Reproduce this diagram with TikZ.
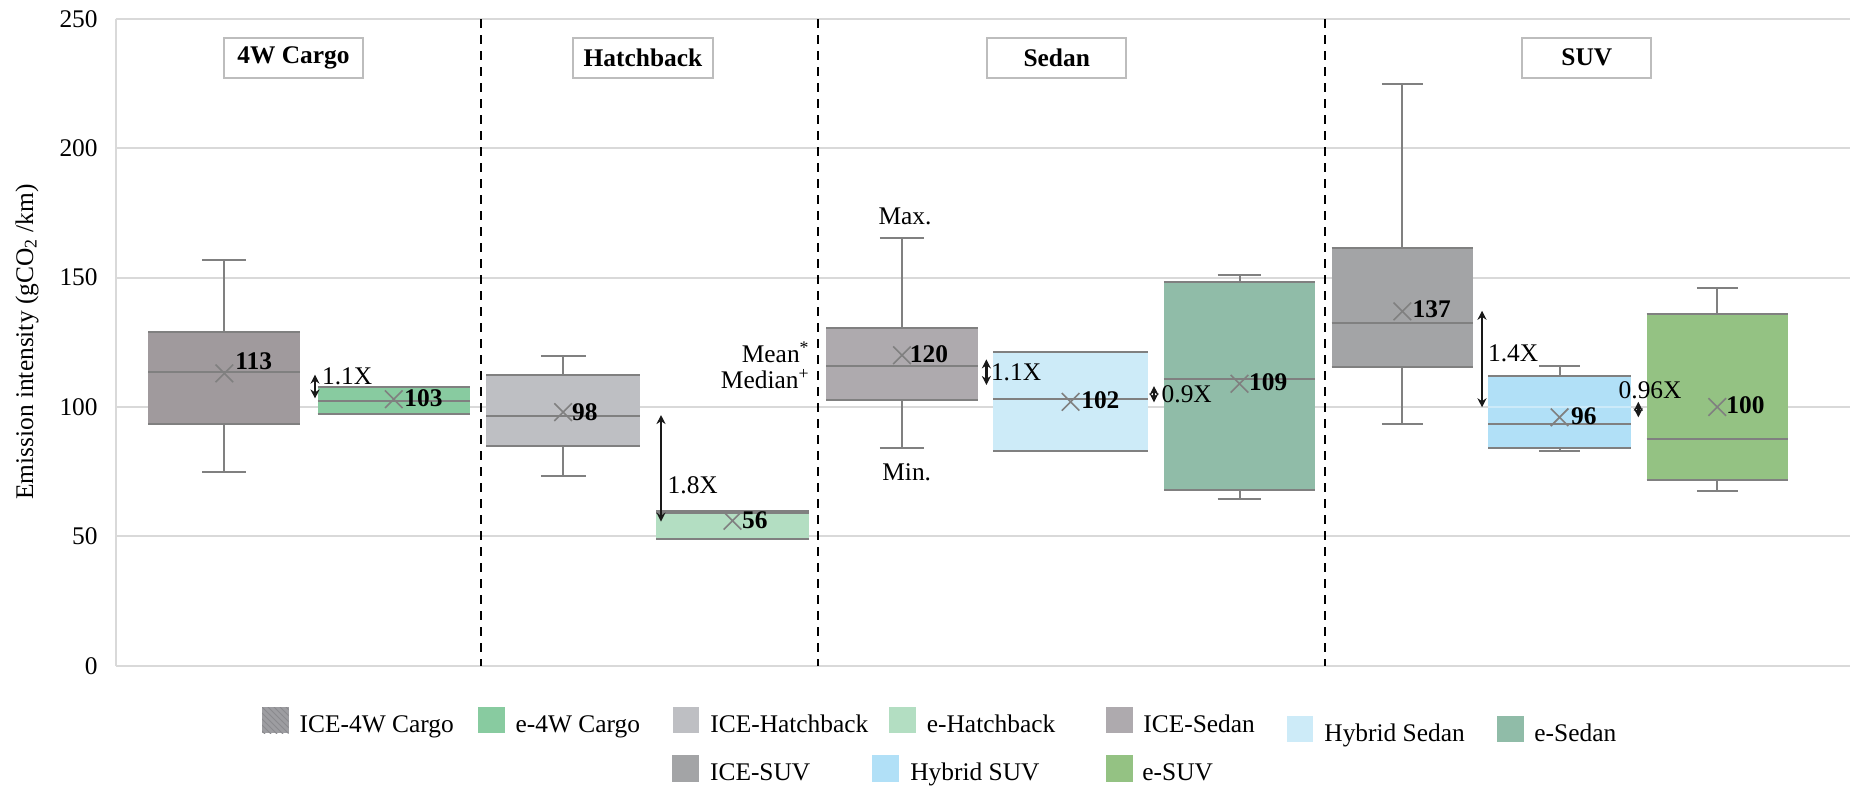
\documentclass[tikz,border=0pt]{standalone}
\usepackage{fontspec}
\setmainfont{Liberation Serif}
\usetikzlibrary{arrows.meta,patterns,shapes.misc}
\definecolor{gridc}{HTML}{D9D9D9}
\definecolor{edgec}{HTML}{808080}
\definecolor{cIceCargo}{HTML}{A09A9D}
\definecolor{cECargo}{HTML}{88CBA0}
\definecolor{cIceHatch}{HTML}{BEBFC3}
\definecolor{cEHatch}{HTML}{B3DEC2}
\definecolor{cIceSedan}{HTML}{AEAAAE}
\definecolor{cHybSedan}{HTML}{CDEBF8}
\definecolor{cESedan}{HTML}{90BCA8}
\definecolor{cIceSUV}{HTML}{A3A4A6}
\definecolor{cHybSUV}{HTML}{B1E0F7}
\definecolor{cESUV}{HTML}{94C283}
\definecolor{cLegCargo}{HTML}{9D9DA1}
\definecolor{cLegHatchLine}{HTML}{8A8A8E}
\definecolor{titleedge}{HTML}{BDBDBD}
\tikzset{
  gridline/.style={draw=gridc, line width=1pt},
  sepline/.style={draw=black, line width=0.9pt, dash pattern=on 4.5pt off 3.5pt},
  edgeline/.style={draw=edgec, line width=1pt},
  meanx/.style={draw=edgec, cross out, minimum size=8pt, inner sep=0pt, line width=0.8pt},
  txt/.style={font=\fontsize{12.7}{15}\selectfont, inner sep=0pt},
  val/.style={inner sep=0pt, font=\fontsize{12.7}{15}\selectfont\bfseries, anchor=west},
  ratio/.style={txt, anchor=west},
  cmp/.style={draw=black!90, line width=1.2pt, {Stealth[length=4.5pt,width=4.5pt]}-{Stealth[length=4.5pt,width=4.5pt]}},
  titlebox/.style={draw=titleedge, line width=1pt, inner sep=0pt, font=\fontsize{12.7}{15}\selectfont\bfseries},
  tick/.style={txt, anchor=east},
  legtxt/.style={txt, anchor=base west},
}
\newcommand\bxp[8]{%
  \pgfmathsetmacro\bxcx{(#1+#2)/2}%
  \pgfmathsetmacro\bxcw{0.145*(#2-#1)}%
  \fill[#8] (#1,#4) rectangle (#2,#6);
  \draw[edgeline] (\bxcx,#6) -- (\bxcx,#7) (\bxcx-\bxcw,#7) -- (\bxcx+\bxcw,#7)
    (\bxcx,#4) -- (\bxcx,#3) (\bxcx-\bxcw,#3) -- (\bxcx+\bxcw,#3)
    (#1,#4) -- (#2,#4) (#1,#5) -- (#2,#5) (#1,#6) -- (#2,#6);
}
\begin{document}
\begin{tikzpicture}[x=0.5pt,y=-0.5pt]
\useasboundingbox (0,0) rectangle (1863,787);
\fill[white] (0,0) rectangle (1863,787);
% grid and ticks
\foreach \v in {0,50,100,150,200,250}{
  \draw[gridline] (115.7,{665.7-2.587*\v}) -- (1850,{665.7-2.587*\v});
  \node[tick] (tick\v) at (98,{665.7-2.587*\v}) {\v};
}
\draw[gridline] (115.7,19) -- (115.7,665.7);
\node[txt, rotate=90] (ylab) at (27,342) {Emission intensity (gCO\textsubscript{2} /km)};
% panel separators
\draw[sepline] (481,19) -- (481,665.7);
\draw[sepline] (817.7,19) -- (817.7,665.7);
\draw[sepline] (1325,19) -- (1325,665.7);
% data
\begin{scope}[shift={(0,665.7)}, y=1.2935pt]
\bxp{148.3}{300.3}{74.8}{93.3}{113.5}{129}{156.8}{cIceCargo}
\bxp{317.7}{470}{97.4}{97.4}{102.4}{107.7}{107.7}{cECargo}
\bxp{486}{640.3}{73.2}{85}{96.5}{112.4}{119.6}{cIceHatch}
\bxp{656.3}{808.7}{49.1}{49.1}{59}{59.9}{59.9}{cEHatch}
\bxp{826.2}{977.7}{84}{102.6}{116}{130.4}{165.5}{cIceSedan}
\bxp{993.4}{1147.7}{83}{83}{103.1}{121.1}{121.1}{cHybSedan}
\bxp{1163.8}{1315.2}{64.4}{68}{110.8}{148.4}{151}{cESedan}
\bxp{1331.7}{1473}{93.3}{115.5}{132.5}{161.3}{224.7}{cIceSUV}
\bxp{1488}{1631}{83}{84}{93.3}{112}{116}{cHybSUV}
\bxp{1646.7}{1787.7}{67.6}{71.7}{87.6}{136}{145.9}{cESUV}
% faint gridline seen through the hybrid SUV box
\draw[draw=white, opacity=0.35, line width=1pt] (1488,100) -- (1631,100);
% means
\node[meanx] (mn1) at (224.3,113) {};
\node[meanx] (mn2) at (393.85,103) {};
\node[meanx] (mn3) at (563.15,98) {};
\node[meanx] (mn4) at (732.5,56) {};
\node[meanx] (mn5) at (901.95,120) {};
\node[meanx] (mn6) at (1070.55,102) {};
\node[meanx] (mn7) at (1239.5,109) {};
\node[meanx] (mn8) at (1402.35,137) {};
\node[meanx] (mn9) at (1559.5,96) {};
\node[meanx] (mn10) at (1717.2,100) {};
% comparison arrows
\coordinate (a1t) at (315,112.5);   \coordinate (a1b) at (315,103.3);
\coordinate (a2t) at (661,96.9);    \coordinate (a2b) at (661,55.7);
\coordinate (a3t) at (986.4,118.4); \coordinate (a3b) at (986.4,108.5);
\coordinate (a4t) at (1154,108.1);  \coordinate (a4b) at (1154,101.8);
\coordinate (a5t) at (1482,137.2);  \coordinate (a5b) at (1482,99.9);
\coordinate (a6t) at (1638.3,102);  \coordinate (a6b) at (1638.3,96);
\draw[cmp] (a1t) -- (a1b);
\draw[cmp] (a2t) -- (a2b);
\draw[cmp] (a3t) -- (a3b);
\draw[cmp] (a4t) -- (a4b);
\draw[cmp] (a5t) -- (a5b);
\draw[cmp] (a6t) -- (a6b);
\end{scope}
% value labels
\node[val] (v1) at (235,361) {113};
\node[val] (v2) at (404,398) {103};
\node[val] (v3) at (571.7,411.7) {98};
\node[val] (v4) at (741.7,520) {56};
\node[val] (v5) at (909.5,354) {120};
\node[val] (v6) at (1080.9,400) {102};
\node[val] (v7) at (1248.8,381.7) {109};
\node[val] (v8) at (1412.3,309.3) {137};
\node[val] (v9) at (1570.7,416) {96};
\node[val] (v10) at (1726,405) {100};
% ratio labels
\node[ratio] (r1) at (321.7,376.5) {1.1X};
\node[ratio] (r2) at (667.3,485) {1.8X};
\node[ratio] (r3) at (990.6,372.7) {1.1X};
\node[ratio] (r4) at (1161.3,394.3) {0.9X};
\node[ratio] (r5) at (1487.7,353.3) {1.4X};
\node[ratio] (r6) at (1618.3,390.7) {0.96X};
% annotation labels
\node[txt, anchor=base east] (meanlab) at (810,362.5) {Mean\textsuperscript{*}};
\node[txt, anchor=base east] (medlab) at (810,388) {Median\textsuperscript{+}};
\node[txt] (maxlab) at (905,216.7) {Max.};
\node[txt] (minlab) at (906.7,472.7) {Min.};
% panel titles
\node[titlebox, minimum width=69.5pt, minimum height=20pt] (t1) at (293.5,57.6) {4W Cargo};
\node[titlebox, minimum width=69.7pt, minimum height=20pt] (t2) at (643,57.6) {Hatchback};
\node[titlebox, minimum width=69.4pt, minimum height=20pt] (t3) at (1056.7,57.6) {Sedan};
\node[titlebox, minimum width=64.5pt, minimum height=20pt] (t4) at (1586.8,57.6) {SUV};
% legend
\fill[cLegCargo] (262,707.3) rectangle (288.7,733.3);
\fill[pattern=north west lines, pattern color=cLegHatchLine] (262,707.3) rectangle (288.7,733.3);
\node[legtxt] (lg1) at (299.3,732) {ICE-4W Cargo};
\fill[cECargo] (478,707.3) rectangle (504.7,733.3);
\node[legtxt] (lg2) at (515.3,732) {e-4W Cargo};
\fill[cIceHatch] (672.7,707.3) rectangle (699.4,733.3);
\node[legtxt] (lg3) at (710,732) {ICE-Hatchback};
\fill[cEHatch] (889,707.3) rectangle (915.7,733.3);
\node[legtxt] (lg4) at (926.5,732) {e-Hatchback};
\fill[cIceSedan] (1106,707.3) rectangle (1132.7,733.3);
\node[legtxt] (lg5) at (1143,732) {ICE-Sedan};
\fill[cHybSedan] (1286.5,716) rectangle (1313.2,742);
\node[legtxt] (lg6) at (1324,741) {Hybrid Sedan};
\fill[cESedan] (1497,716) rectangle (1523.7,742);
\node[legtxt] (lg7) at (1534,741) {e-Sedan};
\fill[cIceSUV] (672,755.3) rectangle (698.7,781.7);
\node[legtxt] (lg8) at (709.7,780) {ICE-SUV};
\fill[cHybSUV] (872,755.3) rectangle (898.7,781.7);
\node[legtxt] (lg9) at (910,780) {Hybrid SUV};
\fill[cESUV] (1106,755.3) rectangle (1132.7,781.7);
\node[legtxt] (lg10) at (1142,780) {e-SUV};
\end{tikzpicture}
\end{document}
